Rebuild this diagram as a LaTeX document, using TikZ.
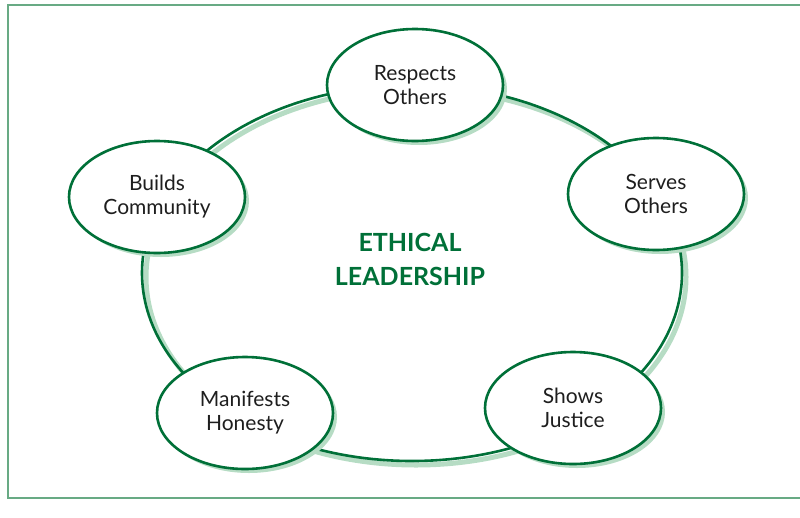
\documentclass[tikz,border=0pt]{standalone}
\usepackage{fontspec}
\setmainfont{Lato}
\usetikzlibrary{shapes.geometric,shadows}
\definecolor{ringG}{RGB}{0,112,56}
\definecolor{shadeG}{RGB}{182,220,196}
\definecolor{frameG}{RGB}{104,170,132}
\definecolor{txtG}{RGB}{30,30,30}
\begin{document}
\begin{tikzpicture}[x=1pt,y=-1pt,
  ring/.style={draw=ringG,line width=2.6pt},
  ringshade/.style={draw=shadeG,line width=5pt},
  trait/.style={ellipse,draw=ringG,line width=2.6pt,fill=white,
    minimum width=176pt,minimum height=112pt,inner sep=0pt,
    align=center,text=txtG,font=\fontsize{21}{24}\selectfont,
    drop shadow={shadow xshift=4pt,shadow yshift=-4pt,fill=shadeG,opacity=1}}]
\useasboundingbox (0,0) rectangle (800,517);
% frame, open on the right
\draw[frameG,line width=2.5pt] (800,5) -- (8,5) -- (8,498) -- (800,498);
% ring behind the traits
\draw[ringshade] (416,277) ellipse [x radius=270,y radius=188];
\draw[ring] (412,273) ellipse [x radius=270,y radius=188];
\node[text=ringG,font=\bfseries\fontsize{25}{34}\selectfont,align=center] (core) at (410,259) {ETHICAL\\LEADERSHIP};
% traits
\node[trait] (respects) at (415,85) {Respects\\Others};
\node[trait] (serves) at (656,194) {Serves\\Others};
\node[trait] (builds) at (157,197) {Builds\\Community};
\node[trait] (honesty) at (245,413) {Manifests\\Honesty};
\node[trait] (justice) at (573,408) {Shows\\Justice};
\end{tikzpicture}
\end{document}
